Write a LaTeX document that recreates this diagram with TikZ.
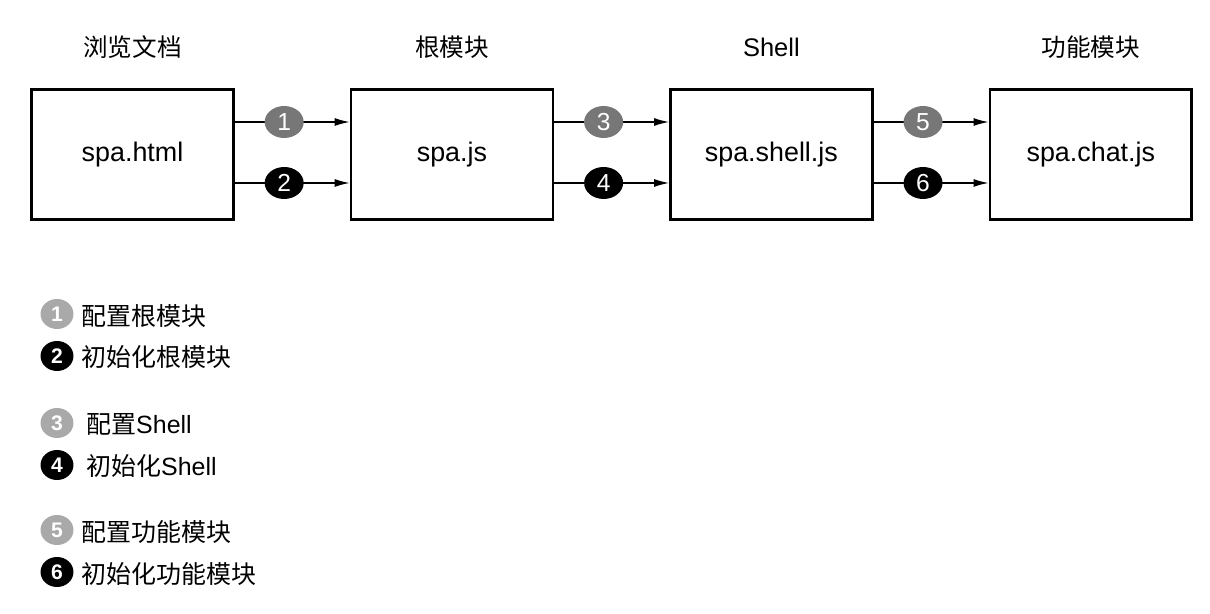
\documentclass[tikz,border=0pt]{standalone}
\usepackage{fontspec}
\setmainfont{Liberation Sans}
\newfontfamily\cjk{Noto Sans CJK SC}
\usetikzlibrary{positioning,arrows.meta,shapes.geometric}
\definecolor{stepgray}{HTML}{777777}
\definecolor{keygray}{HTML}{A9A9A9}
\tikzset{
    on grid,
    node distance=6.39cm,
    module/.style = {
        draw,
        shape=rectangle,
        minimum width=4.04cm,
        minimum height=2.6cm,
        line width=1.5pt,
        font=\fontsize{15.3}{17}\selectfont
    },
    title/.style = {
        font=\cjk\fontsize{14}{16}\selectfont
    },
    config/.style = {
        shape=ellipse,
        fill=stepgray,
        text=white,
        minimum width=0.78cm,
        minimum height=0.64cm,
        inner sep=0pt,
        font=\fontsize{14}{16}\selectfont
    },
    init/.style = {
        config,
        fill=black
    },
    keyconfig/.style = {
        shape=ellipse,
        fill=keygray,
        text=white,
        minimum width=0.66cm,
        minimum height=0.6cm,
        inner sep=0pt,
        font=\bfseries\fontsize{12}{14}\selectfont
    },
    keyinit/.style = {
        keyconfig,
        fill=black
    },
    legend/.style = {
        anchor=west,
        inner sep=0pt,
        font=\fontsize{14.2}{16}\selectfont
    },
    flow/.style = {
        line width=0.75pt
    },
    >={Latex[length=0.3cm,width=0.16cm]},
}
\begin{document}
\begin{tikzpicture}[x=0.02cm,y=-0.02cm]
    \useasboundingbox (0,0) rectangle (1210,614);

    \node[module] (spahtml) at (132.5,154.5) {spa.html};
    \node[module, right=of spahtml] (spajs) {spa.js};
    \node[module, right=of spajs] (spashell) {spa.shell.js};
    \node[module, right=of spashell] (spachat) {spa.chat.js};

    \node[title, above=2.15cm of spahtml] (tdoc) {浏览文档};
    \node[title, above=2.15cm of spajs] (troot) {根模块};
    \node[title, above=2.15cm of spashell, font=\fontsize{14.5}{16}\selectfont] (tshell) {Shell};
    \node[title, above=2.15cm of spachat] (tfeature) {功能模块};

    \draw[flow, ->] ([yshift=0.65cm]spahtml.east) -- node[config, pos=0.43] (s1) {1} ([yshift=0.65cm]spajs.west);
    \draw[flow, ->] ([yshift=-0.57cm]spahtml.east) -- node[init, pos=0.43] (s2) {2} ([yshift=-0.57cm]spajs.west);
    \draw[flow, ->] ([yshift=0.65cm]spajs.east) -- node[config, pos=0.43] (s3) {3} ([yshift=0.65cm]spashell.west);
    \draw[flow, ->] ([yshift=-0.57cm]spajs.east) -- node[init, pos=0.43] (s4) {4} ([yshift=-0.57cm]spashell.west);
    \draw[flow, ->] ([yshift=0.65cm]spashell.east) -- node[config, pos=0.43] (s5) {5} ([yshift=0.65cm]spachat.west);
    \draw[flow, ->] ([yshift=-0.57cm]spashell.east) -- node[init, pos=0.43] (s6) {6} ([yshift=-0.57cm]spachat.west);

    % legend
    \node[keyconfig] (k1) at (57,314) {1};
    \node[keyinit] (k2) at (57,356) {2};
    \node[keyconfig] (k3) at (57,423) {3};
    \node[keyinit] (k4) at (57,465) {4};
    \node[keyconfig] (k5) at (57,530) {5};
    \node[keyinit] (k6) at (57,572) {6};

    \node[legend] (l1) at (81,316) {\cjk 配置根模块};
    \node[legend] (l2) at (81,357) {\cjk 初始化根模块};
    \node[legend] (l3) at (86,424) {{\cjk 配置}Shell};
    \node[legend] (l4) at (86,466) {{\cjk 初始化}Shell};
    \node[legend] (l5) at (81,532) {\cjk 配置功能模块};
    \node[legend] (l6) at (81,574) {\cjk 初始化功能模块};
\end{tikzpicture}
\end{document}
